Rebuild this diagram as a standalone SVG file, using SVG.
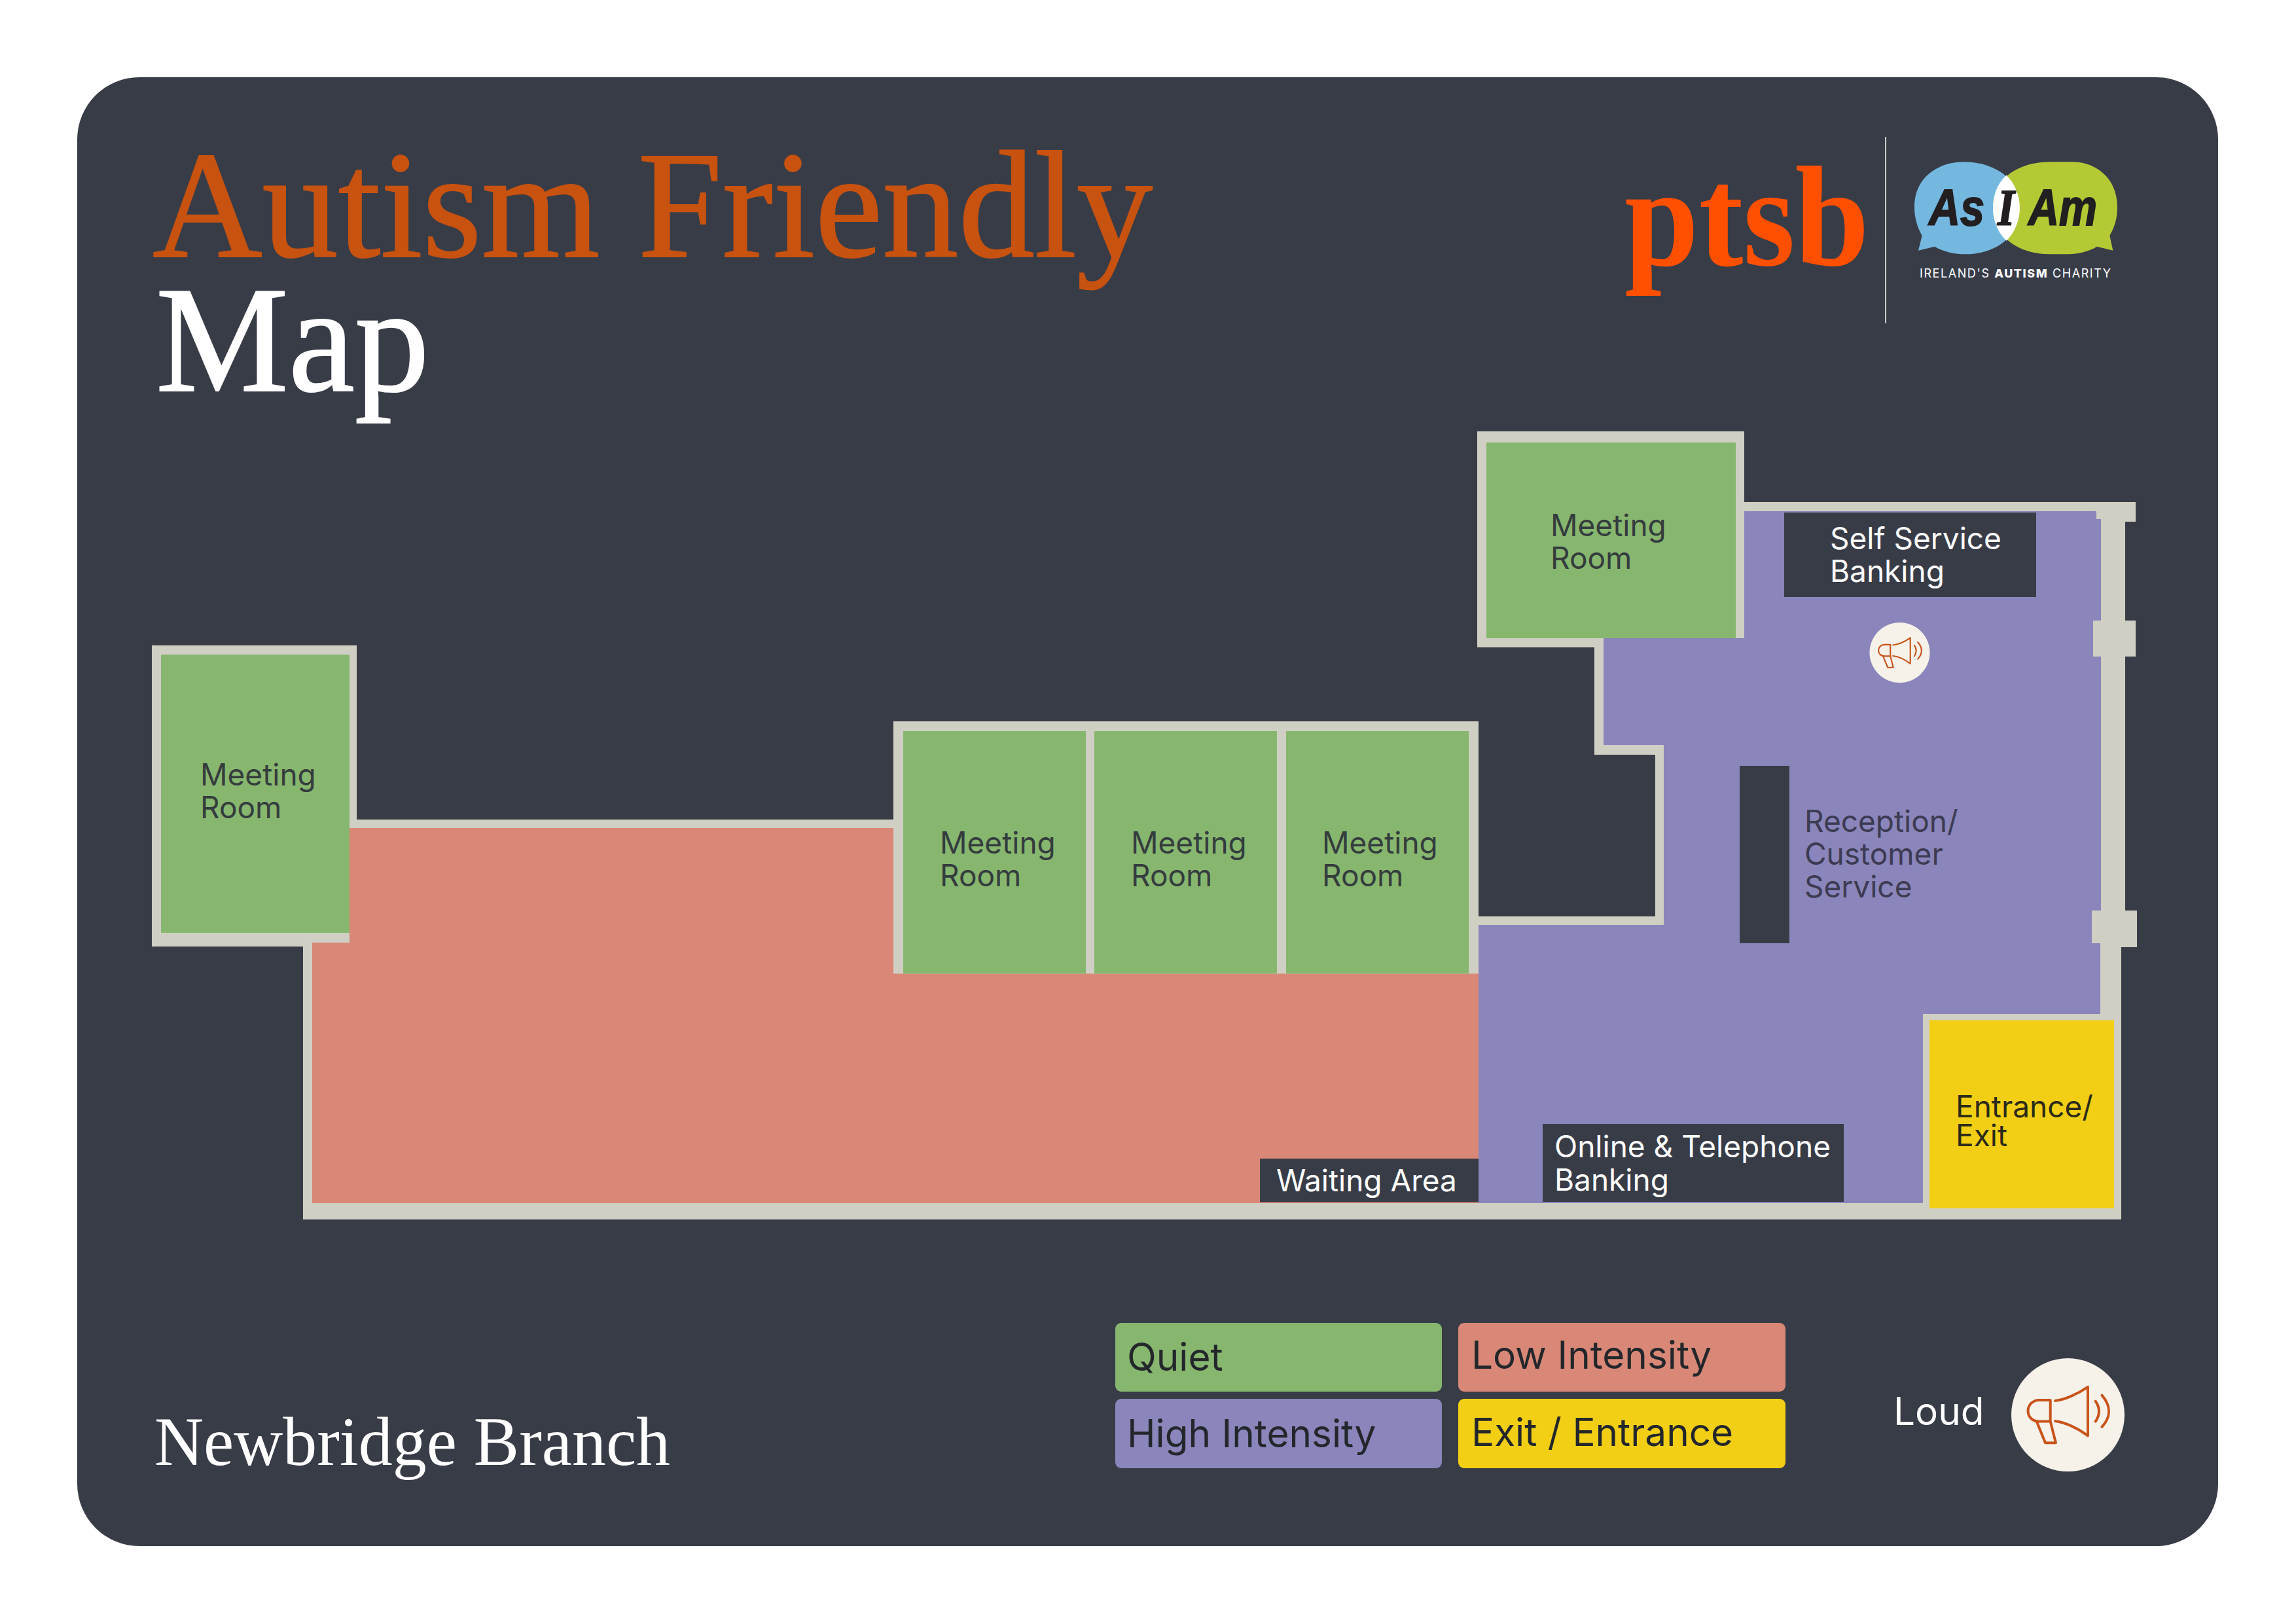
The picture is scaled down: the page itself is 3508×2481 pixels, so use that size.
<svg xmlns="http://www.w3.org/2000/svg" width="3508" height="2481" viewBox="0 0 3508 2481">
<style>
.wall{fill:#d0cfc3}.quiet{fill:#87b66f}.low{fill:#d98877}.high{fill:#8a85bb}.exit{fill:#f2cf15}.dark{fill:#383c47}
text{font-family:"Inter","Liberation Sans",sans-serif}
.rm{font-size:46px;fill:#343c3d}.rc{font-size:46px;fill:#3c3b52}.en{font-size:46px;fill:#2c2b18}.lbl{font-size:46px;fill:#fff}
.leg{font-size:58.500px;fill:#23272b}
text.ser{font-family:"Liberation Serif",serif}
text.br{font-family:"Liberation Sans",sans-serif;font-weight:700;font-style:italic;font-size:78px;fill:#231f20;stroke:#231f20;stroke-width:2}
.ico{fill:none;stroke:#c9531a;stroke-width:4;stroke-linejoin:round;stroke-linecap:round}
</style>
<defs>
<g id="horn">
<circle r="86.500" fill="#f6f2ea"/>
<path class="ico" d="M-19.500,-21.700C-5,-23 15,-32 30.500,-42.700V31.700C15,20 -5,11 -19.500,9.300M-26.800,-22.700H-44C-54,-22.700 -61,-15 -61,-6C-61,3 -54,10 -44,10H-26.800ZM-47.800,10L-34.500,42.700H-18.500L-26.800,10M42.200,-21C49,-11 49,0 42.200,10M52,-30C66,-14 66,3 52,18.300"/>
</g>
</defs>
<rect x="118" y="118" width="3271" height="2244" rx="95" class="dark"/>
<g id="title">
<text class="ser" x="233" y="392" font-size="234" fill="#c8520f" stroke="#c8520f" stroke-width="2" textLength="1528" lengthAdjust="spacingAndGlyphs">Autism Friendly</text>
<text class="ser" x="238" y="597" font-size="230" fill="#fff" stroke="#fff" stroke-width="2" textLength="418" lengthAdjust="spacingAndGlyphs">Map</text>
<text class="ser" x="236" y="2238" font-size="106" fill="#fff" textLength="788" lengthAdjust="spacingAndGlyphs">Newbridge Branch</text>
</g>
<g id="logos">
<text class="ser" x="2482" y="405" font-size="218" font-weight="700" fill="#ff4f00" textLength="374" lengthAdjust="spacingAndGlyphs">ptsb</text>
<rect x="2880" y="209" width="2" height="285" fill="#c9c9c4"/>
<g transform="translate(2900,220) scale(.33333)">
<path fill="#74b8e0" d="M300,82C200,82 75,140 75,290C75,340 90,385 110,420L93,488L168,470C210,495 260,505 310,505C440,505 558,430 558,293C558,150 430,82 300,82Z"/>
<path fill="#b5c935" d="M700,82H800C900,82 1005,150 1005,290C1005,345 990,385 970,420L985,488L912,470C870,495 820,505 770,505H690C560,505 435,430 435,293C435,150 560,82 700,82Z"/>
<path fill="#fff" d="M497,143C455,180 435,235 435,293C435,350 455,405 497,443C535,405 558,350 558,293C558,235 535,180 497,143Z"/>
</g>
<text class="br" x="2947" y="344" textLength="85" lengthAdjust="spacingAndGlyphs">As</text>
<text class="br" x="3052" y="343" textLength="26" lengthAdjust="spacingAndGlyphs" style="font-family:'Liberation Serif',serif">I</text>
<text class="br" x="3099" y="344" textLength="105" lengthAdjust="spacingAndGlyphs">Am</text>
<text x="2933" y="424" font-size="18" fill="#fff" textLength="292">IRELAND'S <tspan font-weight="800">AUTISM</tspan> CHARITY</text>
</g>
<g id="walls">
<path class="wall" d="M463,1446H232V986H545V1252H1365V1102H2259V1400H2529V1153H2436V989H2257V659H2665V767H3263V797H3247V948H3263V1003H3247V1391H3265V1447H3241V1863H463Z"/>
</g>
<g id="zones">
<path class="low" d="M534,1265H1365V1487.500H2259V1838H477V1440H534Z"/>
<path class="high" d="M2259,1413H2542V1138H2450V975H2665V781H3203V793H3210V948H3198V1003H3210V1391H3196V1441H3209V1549H2938V1838H2259Z"/>
</g>
<g id="room-1"><rect class="quiet" x="246" y="1000" width="288" height="425"/><text class="rm" x="306" y="1200">Meeting</text><text class="rm" x="306" y="1250">Room</text></g>
<g id="room-2"><rect class="quiet" x="1380" y="1117" width="279" height="370.500"/><text class="rm" x="1436" y="1304">Meeting</text><text class="rm" x="1436" y="1354">Room</text></g>
<g id="room-3"><rect class="quiet" x="1672" y="1117" width="279" height="370.500"/><text class="rm" x="1728" y="1304">Meeting</text><text class="rm" x="1728" y="1354">Room</text></g>
<g id="room-4"><rect class="quiet" x="1965" y="1117" width="279" height="370.500"/><text class="rm" x="2020" y="1304">Meeting</text><text class="rm" x="2020" y="1354">Room</text></g>
<g id="room-5"><rect class="quiet" x="2271" y="676" width="381" height="299"/><text class="rm" x="2369" y="819">Meeting</text><text class="rm" x="2369" y="869">Room</text></g>
<g id="waiting"><rect class="dark" x="1925" y="1770" width="334" height="66.500"/><text class="lbl" x="1950" y="1820">Waiting Area</text></g>
<g id="online"><rect class="dark" x="2357" y="1717" width="460" height="119"/><text class="lbl" x="2375" y="1768">Online &amp; Telephone</text><text class="lbl" x="2375" y="1819">Banking</text></g>
<g id="self-service"><rect class="dark" x="2726" y="783" width="385" height="129"/><text class="lbl" x="2796" y="839">Self Service</text><text class="lbl" x="2796" y="889">Banking</text></g>
<g id="reception"><rect class="dark" x="2658" y="1170" width="76" height="271"/><text class="rc" x="2757" y="1271">Reception/</text><text class="rc" x="2757" y="1321">Customer</text><text class="rc" x="2757" y="1371">Service</text></g>
<g id="entrance"><rect class="exit" x="2948" y="1558.500" width="282" height="287.500"/><text class="en" x="2988" y="1707">Entrance/</text><text class="en" x="2988" y="1751">Exit</text></g>
<g id="loud-marker"><use href="#horn" transform="translate(2902.500,997) scale(.532)"/></g>
<g id="legend">
<g id="leg-quiet"><rect class="quiet" x="1704" y="2021" width="499" height="105" rx="9"/><text class="leg" x="1722" y="2094">Quiet</text></g>
<g id="leg-low"><rect class="low" x="2228" y="2021" width="500" height="105" rx="9"/><text class="leg" x="2248" y="2091">Low Intensity</text></g>
<g id="leg-high"><rect class="high" x="1704" y="2137" width="499" height="106" rx="9"/><text class="leg" x="1722" y="2211">High Intensity</text></g>
<g id="leg-exit"><rect class="exit" x="2228" y="2137" width="500" height="106" rx="9"/><text class="leg" x="2248" y="2209">Exit / Entrance</text></g>
<g id="leg-loud"><text class="leg" x="2893" y="2177" style="fill:#fff">Loud</text><use href="#horn" transform="translate(3159.500,2161.600)"/></g>
</g>
</svg>
